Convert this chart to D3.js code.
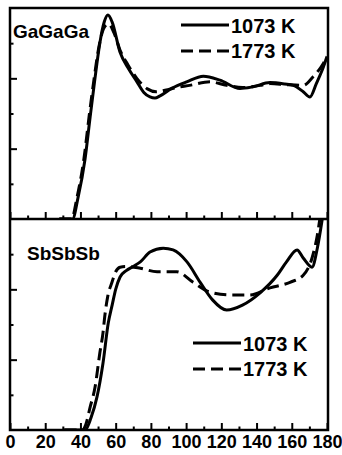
<!DOCTYPE html>
<html>
<head>
<meta charset="utf-8">
<script src="https://cdn.jsdelivr.net/npm/d3@7"></script>
<style>
  body { margin: 0; background: #fff; }
  svg { display: block; }
  text { font-family: "Liberation Sans", Arial, sans-serif; font-weight: bold; fill: #000; }
</style>
</head>
<body>
<svg width="342" height="455"></svg>
<script>
// angle (deg) vs distribution, two temperatures per triplet
var xTicks = [0, 20, 40, 60, 80, 100, 120, 140, 160, 180];
var xMinor = [10, 30, 50, 70, 90, 110, 130, 150, 170];
var yMajor = [2, 4];
var yMinor = [1, 3, 5];
var seriesNames = ["1073 K", "1773 K"];

var gaga1073 = [[28,0],[35.5,0],[38.6,0.6],[42.6,1.7],[45.5,2.9],[48,3.9],[51,5.0],[53.5,5.6],[55.6,5.8],
  [58,5.6],[62.5,4.74],[67,4.3],[72.1,3.9],[76,3.6],[79.5,3.47],[82.3,3.44],[85.2,3.5],[92,3.72],
  [100.3,3.9],[109.8,4.06],[119.2,3.95],[130.6,3.71],[138,3.76],[147.6,3.88],[156,3.84],[160.8,3.8],
  [166.5,3.62],[170.3,3.47],[174,3.86],[177,4.2],[180,4.62]];
var gaga1773 = [[28,0],[35,0],[38,0.6],[42,1.72],[45,2.95],[47.5,3.9],[50.5,4.9],[53.5,5.45],[56,5.55],
  [59,5.3],[62.5,4.8],[67,4.38],[72,4.0],[78,3.7],[83,3.62],[88,3.66],[95,3.74],[102,3.8],
  [113.6,3.9],[123,3.8],[132,3.74],[142,3.8],[147.6,3.85],[157,3.82],[166.4,3.8],[172,4.04],
  [178,4.43],[180,4.62]];
var sbsb1073 = [[30,0],[42.6,0],[46,0.35],[49.4,0.94],[52.8,1.9],[55.8,3.04],[58,3.55],[60,4.0],
  [62.5,4.35],[66,4.53],[70,4.65],[74,4.78],[79.5,5.06],[87,5.17],[92.6,5.12],[100.5,4.78],
  [108,4.2],[115,3.7],[123,3.41],[132,3.55],[142,3.9],[151.7,4.4],[157,4.78],[163,5.12],
  [166.5,4.89],[171.5,4.63],[174.5,5.17],[177,5.9],[179,6.6]];
var sbsb1773 = [[31,0],[41,0],[43,0.15],[45.5,0.65],[48.3,1.22],[51,2.19],[52.8,2.76],[53.9,3.27],
  [55.5,3.8],[57.9,4.2],[60,4.5],[62.5,4.63],[66,4.65],[74,4.6],[83.5,4.5],[94.7,4.5],[104,4.2],
  [113.6,3.92],[125,3.84],[136,3.84],[147.6,4.04],[159,4.2],[166.5,4.4],[171.5,4.89],
  [174.5,5.54],[176.5,6.2],[178,6.7]];

var plotLeft = 10, plotRight = 327, plotTop = 8, plotMid = 219, plotBottom = 430;

var x = d3.scaleLinear().domain([0, 180]).range([plotLeft, plotRight]);
var yTop = d3.scaleLinear().domain([0, 6]).range([plotMid, plotTop]);
var yBot = d3.scaleLinear().domain([0, 6]).range([plotBottom, plotMid]);

var svg = d3.select("svg");

svg.append("clipPath").attr("id", "clipTop")
  .append("rect").attr("x", plotLeft).attr("y", plotTop)
  .attr("width", plotRight - plotLeft).attr("height", plotMid - plotTop);
svg.append("clipPath").attr("id", "clipBot")
  .append("rect").attr("x", plotLeft).attr("y", plotMid)
  .attr("width", plotRight - plotLeft).attr("height", plotBottom - plotMid);

function drawPanel(y, base, data1, data2, clipId, label, labelPos, legendPos, showLabels){
  // x ticks pointing up from the panel's bottom edge
  var major = d3.axisBottom(x).tickValues(xTicks).tickSizeInner(-7).tickSizeOuter(0).tickPadding(4);
  if (!showLabels) major.tickFormat("");
  var gx = svg.append("g").attr("transform", "translate(0," + base + ")").call(major);
  gx.select(".domain").remove();
  gx.selectAll("line").attr("stroke", "#000").attr("stroke-width", 2);
  gx.selectAll("text").style("font-size", "18px").attr("font-family", null).attr("dy", "0.78em");

  var minor = d3.axisBottom(x).tickValues(xMinor).tickSizeInner(-3.5).tickSizeOuter(0).tickFormat("");
  var gm = svg.append("g").attr("transform", "translate(0," + base + ")").call(minor);
  gm.select(".domain").remove();
  gm.selectAll("line").attr("stroke", "#000").attr("stroke-width", 2);

  // y ticks pointing right from the left edge
  var ym = svg.append("g").attr("transform", "translate(" + plotLeft + ",0)")
    .call(d3.axisLeft(y).tickValues(yMajor).tickSizeInner(-7).tickSizeOuter(0).tickFormat(""));
  ym.select(".domain").remove();
  ym.selectAll("line").attr("stroke", "#000").attr("stroke-width", 2);
  var yn = svg.append("g").attr("transform", "translate(" + plotLeft + ",0)")
    .call(d3.axisLeft(y).tickValues(yMinor).tickSizeInner(-3.5).tickSizeOuter(0).tickFormat(""));
  yn.select(".domain").remove();
  yn.selectAll("line").attr("stroke", "#000").attr("stroke-width", 2);

  var line = d3.line()
    .x(function(d){ return x(d[0]); })
    .y(function(d){ return y(d[1]); })
    .curve(d3.curveMonotoneX);

  var g = svg.append("g").attr("clip-path", "url(#" + clipId + ")");
  g.append("path").datum(data2)
    .attr("d", line).attr("fill", "none").attr("stroke", "#000")
    .attr("stroke-width", 3).attr("stroke-dasharray", "12,6");
  g.append("path").datum(data1)
    .attr("d", line).attr("fill", "none").attr("stroke", "#000")
    .attr("stroke-width", 3);

  svg.append("text").attr("x", labelPos[0]).attr("y", labelPos[1])
    .style("font-size", "19px").text(label);

  // legend
  var lg = svg.append("g").attr("transform", "translate(" + legendPos[0] + "," + legendPos[1] + ")");
  lg.append("line").attr("x1", 0).attr("x2", 48).attr("y1", 0).attr("y2", 0)
    .attr("stroke", "#000").attr("stroke-width", 3);
  lg.append("line").attr("x1", 0).attr("x2", 48).attr("y1", 26).attr("y2", 26)
    .attr("stroke", "#000").attr("stroke-width", 3).attr("stroke-dasharray", "12,6");
  lg.append("text").attr("x", 50).attr("y", 8).style("font-size", "20px").text(seriesNames[0]);
  lg.append("text").attr("x", 50).attr("y", 33).style("font-size", "20px").text(seriesNames[1]);
}

drawPanel(yTop, plotMid, gaga1073, gaga1773, "clipTop", "GaGaGa", [13, 38], [181, 25], false);
drawPanel(yBot, plotBottom, sbsb1073, sbsb1773, "clipBot", "SbSbSb", [27, 260], [193, 343], true);

// frame
svg.append("rect").attr("x", plotLeft).attr("y", plotTop)
  .attr("width", plotRight + 1 - plotLeft).attr("height", plotBottom - plotTop)
  .attr("fill", "none").attr("stroke", "#000").attr("stroke-width", 2.5);
svg.append("line").attr("x1", plotLeft).attr("x2", plotRight + 1).attr("y1", plotMid).attr("y2", plotMid)
  .attr("stroke", "#000").attr("stroke-width", 2.5);
</script>
</body>
</html>
